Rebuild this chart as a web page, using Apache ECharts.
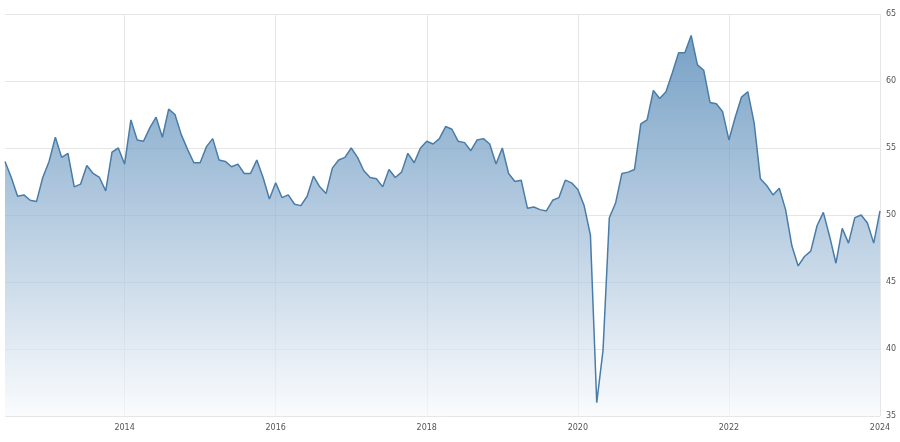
<!DOCTYPE html>
<html>
<head>
<meta charset="utf-8">
<script src="https://cdn.jsdelivr.net/npm/echarts@6/dist/echarts.min.js"></script>
<style>html,body{margin:0;padding:0;background:#fff}#chart{width:900px;height:442px}</style>
</head>
<body>
<div id="chart"></div>
<script>
// monthly values, Jun 2012 .. Jan 2024
var startYear = 2012, startMonth = 6;
var values = [
  54.0,52.8,51.4,51.5,51.1,51.0,52.8,
  54.0,55.8,54.3,54.6,52.1,52.3,53.7,53.1,52.8,51.8,54.7,55.0,
  53.8,57.1,55.6,55.5,56.5,57.3,55.8,57.9,57.5,56.0,54.9,53.9,
  53.9,55.1,55.7,54.1,54.0,53.6,53.8,53.1,53.1,54.1,52.8,51.2,
  52.4,51.3,51.5,50.8,50.7,51.4,52.9,52.1,51.6,53.5,54.1,54.3,
  55.0,54.3,53.3,52.8,52.7,52.1,53.4,52.8,53.2,54.6,53.9,55.0,
  55.5,55.3,55.7,56.6,56.4,55.5,55.4,54.8,55.6,55.7,55.3,53.8,
  55.0,53.1,52.5,52.6,50.5,50.6,50.4,50.3,51.1,51.3,52.6,52.4,
  51.9,50.7,48.5,36.0,39.9,49.8,50.9,53.1,53.2,53.4,56.8,57.1,
  59.3,58.7,59.2,60.6,62.1,62.1,63.4,61.2,60.8,58.4,58.3,57.7,
  55.6,57.3,58.8,59.2,56.9,52.7,52.2,51.5,52.0,50.4,47.7,46.2,
  46.9,47.3,49.2,50.2,48.4,46.4,49.0,47.9,49.8,50.0,49.4,47.9,
  50.3
];
var months = [];
for (var i = 0; i < values.length; i++) {
    var m = startMonth - 1 + i;
    var y = startYear + Math.floor(m / 12);
    months.push(y + '-' + ('0' + (m % 12 + 1)).slice(-2));
}
function isTick(idx, val) {
    return val.slice(5) === '01' && Number(val.slice(0, 4)) % 2 === 0;
}

var mychart = echarts.init(document.getElementById('chart'));
var option = {
    animation: false,
    grid: {left: 5, right: 20, top: 14, bottom: 26},
    xAxis: {
        type: 'category',
        boundaryGap: false,
        data: months,
        axisLine: {show: false},
        axisTick: {show: false},
        axisLabel: {
            interval: isTick,
            formatter: function (v) { return v.slice(0, 4); },
            color: '#555', fontSize: 8, fontFamily: 'DejaVu Sans', margin: 8
        },
        splitLine: {show: true, interval: isTick, lineStyle: {color: '#e6e6e6'}}
    },
    yAxis: {
        type: 'value',
        position: 'right',
        min: 35, max: 65, interval: 5,
        axisLabel: {color: '#555', fontSize: 8, fontFamily: 'DejaVu Sans', margin: 6},
        splitLine: {lineStyle: {color: '#e6e6e6'}}
    },
    series: [{
        type: 'line',
        data: values,
        symbol: 'none',
        lineStyle: {color: '#4a7ca8', width: 1.5},
        areaStyle: {
            origin: 'start',
            color: new echarts.graphic.LinearGradient(0, 0, 0, 1, [
                {offset: 0, color: '#3d78ad'},
                {offset: 1, color: '#f7f9fc'}
            ])
        }
    }]
};
mychart.setOption(option, true);
</script>
</body>
</html>
